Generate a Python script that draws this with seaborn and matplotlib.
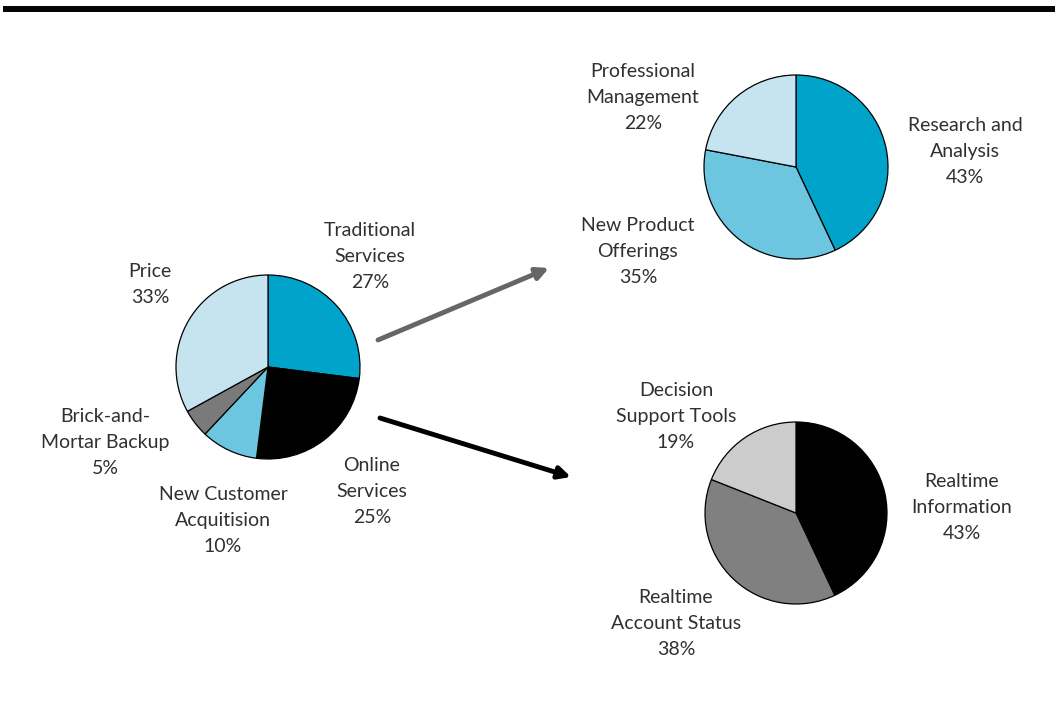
import matplotlib
matplotlib.use("Agg")
import matplotlib.pyplot as plt
from matplotlib.patches import Rectangle, FancyArrowPatch
import seaborn as sns

# Main breakdown of customer value drivers
main_labels = ["Traditional\nServices", "Online\nServices", "New Customer\nAcquitision",
               "Brick-and-\nMortar Backup", "Price"]
main_values = [27, 25, 10, 5, 33]
main_colors = ["#00A4CB", "#000000", "#6CC6DF", "#7A7A7A", "#C6E4EF"]

# Traditional services drill-down
trad_labels = ["Research and\nAnalysis", "New Product\nOfferings", "Professional\nManagement"]
trad_values = [43, 35, 22]
trad_colors = ["#00A4CB", "#6CC6DF", "#C6E4EF"]

# Online services drill-down
online_labels = ["Realtime\nInformation", "Realtime\nAccount Status", "Decision\nSupport Tools"]
online_values = [43, 38, 19]
online_colors = ["#000000", "#808080", "#CCCCCC"]

sns.set_theme(style="white")
plt.rcParams["font.family"] = ["Lato", "DejaVu Sans"]

W, H = 1055, 715
fig = plt.figure(figsize=(W / 100, H / 100), dpi=100)
ax = fig.add_axes([0, 0, 1, 1])


def Y(y):
    return H - y


def draw_pie(values, colors, cx, cy, r):
    ax.pie(values, colors=colors, startangle=90, counterclock=False,
           center=(cx, Y(cy)), radius=r, frame=True,
           wedgeprops=dict(edgecolor="black", linewidth=0.9))


draw_pie(main_values, main_colors, 268, 367, 92)
draw_pie(trad_values, trad_colors, 796, 167, 92)
draw_pie(online_values, online_colors, 796, 513, 91)

# label anchor positions (center of first text line)
main_pos = [(370, 230), (372, 465), (223, 494), (105, 416), (150, 271)]
trad_pos = [(965, 125), (638, 225), (643, 71)]
online_pos = [(962, 481), (676, 597), (676, 390)]

txt_kw = dict(ha="center", va="top", fontsize=14, color="#303030",
              linespacing=1.66, fontweight="normal")


def draw_labels(labels, values, positions):
    for lab, val, (x, y) in zip(labels, values, positions):
        ax.text(x, Y(y - 8), f"{lab}\n{val}%", **txt_kw)


draw_labels(main_labels, main_values, main_pos)
draw_labels(trad_labels, trad_values, trad_pos)
draw_labels(online_labels, online_values, online_pos)

# connecting arrows
for (x0, y0, x1, y1, col) in [(378, 340, 549, 268, "#666666"),
                              (380, 418, 571, 477, "#000000")]:
    ax.add_patch(FancyArrowPatch((x0, Y(y0)), (x1, Y(y1)),
                                 arrowstyle="-|>", mutation_scale=18,
                                 linewidth=3.5, color=col,
                                 shrinkA=0, shrinkB=0))

# heading rule
ax.add_patch(Rectangle((3, Y(12)), W - 3, 6, facecolor="#050505",
                       edgecolor="none"))

ax.set_xlim(0, W)
ax.set_ylim(0, H)
ax.set_aspect("auto")
ax.axis("off")

fig.savefig("out.png", dpi=100, facecolor="white")
